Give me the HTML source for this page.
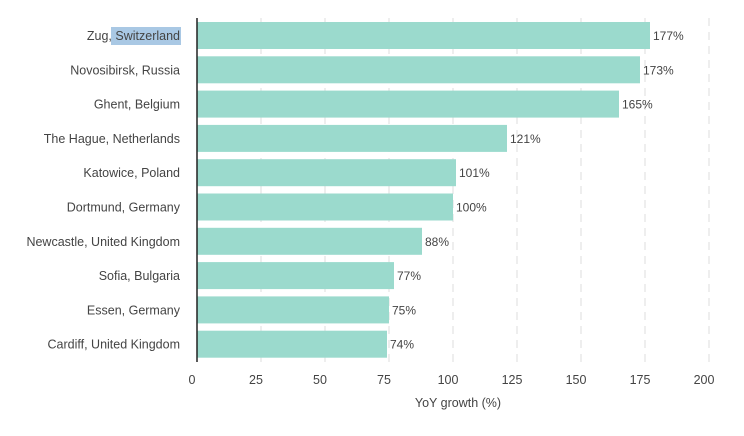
<!DOCTYPE html>
<html><head><style>
body{margin:0;background:#fff;}
text{font-family:"Liberation Sans",sans-serif;fill:#444;}
</style></head><body>
<svg width="744" height="431" xmlns="http://www.w3.org/2000/svg">
<g stroke="#ddd" stroke-width="1" stroke-dasharray="8,6">
<line x1="261" y1="18" x2="261" y2="362"/>
<line x1="325" y1="18" x2="325" y2="362"/>
<line x1="389" y1="18" x2="389" y2="362"/>
<line x1="453" y1="18" x2="453" y2="362"/>
<line x1="517" y1="18" x2="517" y2="362"/>
<line x1="581" y1="18" x2="581" y2="362"/>
<line x1="645" y1="18" x2="645" y2="362"/>
<line x1="709" y1="18" x2="709" y2="362"/>
</g>
<rect x="111" y="27" width="70" height="18" fill="#a9c8e4"/>
<g fill="#9bdacd">
<rect x="197" y="22" width="453" height="27"/>
<rect x="197" y="56.3" width="443" height="27"/>
<rect x="197" y="90.6" width="422" height="27"/>
<rect x="197" y="124.9" width="310" height="27"/>
<rect x="197" y="159.2" width="259" height="27"/>
<rect x="197" y="193.5" width="256" height="27"/>
<rect x="197" y="227.8" width="225" height="27"/>
<rect x="197" y="262.1" width="197" height="27"/>
<rect x="197" y="296.4" width="192" height="27"/>
<rect x="197" y="330.7" width="190" height="27"/>
</g>
<line x1="197" y1="18" x2="197" y2="362" stroke="#222" stroke-width="1.5"/>
<g font-size="12.5" text-anchor="end">
<text x="180" y="40">Zug, Switzerland</text>
<text x="180" y="74.3">Novosibirsk, Russia</text>
<text x="180" y="108.6">Ghent, Belgium</text>
<text x="180" y="142.9">The Hague, Netherlands</text>
<text x="180" y="177.2">Katowice, Poland</text>
<text x="180" y="211.5">Dortmund, Germany</text>
<text x="180" y="245.8">Newcastle, United Kingdom</text>
<text x="180" y="280.1">Sofia, Bulgaria</text>
<text x="180" y="314.4">Essen, Germany</text>
<text x="180" y="348.7">Cardiff, United Kingdom</text>
</g>
<g font-size="12">
<text x="653" y="40">177%</text>
<text x="643" y="74.3">173%</text>
<text x="622" y="108.6">165%</text>
<text x="510" y="142.9">121%</text>
<text x="459" y="177.2">101%</text>
<text x="456" y="211.5">100%</text>
<text x="425" y="245.8">88%</text>
<text x="397" y="280.1">77%</text>
<text x="392" y="314.4">75%</text>
<text x="390" y="348.7">74%</text>
</g>
<g font-size="12.5" text-anchor="middle">
<text x="192" y="384">0</text>
<text x="256" y="384">25</text>
<text x="320" y="384">50</text>
<text x="384" y="384">75</text>
<text x="448" y="384">100</text>
<text x="512" y="384">125</text>
<text x="576" y="384">150</text>
<text x="640" y="384">175</text>
<text x="704" y="384">200</text>
<text x="458" y="407">YoY growth (%)</text>
</g>
</svg>
</body></html>
